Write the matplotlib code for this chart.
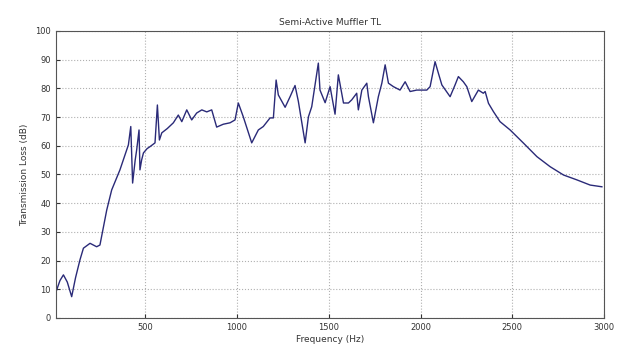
import matplotlib
matplotlib.use("Agg")
import matplotlib.pyplot as plt

freq = [17, 35, 54, 75, 99, 120, 144, 163, 199, 235, 253, 290, 317, 362, 408, 421,
        431, 445, 453, 466, 471, 480, 490, 510, 526, 553, 566, 577, 590, 620, 653,
        680, 699, 726, 753, 780, 808, 835, 862, 889, 925, 962, 989, 1007, 1034,
        1080, 1116, 1143, 1180, 1198, 1213, 1225, 1262, 1289, 1316, 1334, 1371,
        1389, 1407, 1443, 1452, 1480, 1507, 1534, 1552, 1580, 1607, 1625, 1652,
        1661, 1680, 1707, 1716, 1743, 1770, 1789, 1807, 1825, 1852, 1888, 1916,
        1943, 1979, 2034, 2052, 2079, 2097, 2116, 2161, 2188, 2206, 2233, 2252,
        2279, 2315, 2342, 2352, 2370, 2397, 2433, 2488, 2561, 2634, 2706, 2779,
        2852, 2924, 2988]
tl = [9.7, 13, 15, 12.5, 7.4, 14, 20.2, 24.3, 26, 24.8, 25.4, 37.6, 44.6, 51.6,
      60.3, 66.7, 47, 55, 58.5, 65.5, 51.6, 55, 57.5, 59, 59.7, 61, 74.2, 62, 64.5,
      66, 68, 70.7, 68.4, 72.5, 69, 71.4, 72.5, 71.8, 72.5, 66.5, 67.5, 68, 69,
      74.9, 70.1, 61, 65.5, 66.7, 69.7, 69.7, 82.9, 77.7, 73.4, 77.1, 81, 75.5,
      61, 70.1, 73.6, 88.8, 79.4, 75, 80.6, 71, 84.7, 74.9, 74.9, 76, 78.3, 72.5,
      79.4, 81.8, 77.1, 68, 77.1, 81.8, 88.2, 81.8, 80.6, 79.4, 82.3, 78.9, 79.4,
      79.4, 80.6, 89.3, 85.3, 81.2, 77.1, 81.2, 84.1, 82.3, 80.6, 75.4, 79.4,
      78.3, 78.9, 74.8, 71.9, 68.4, 65.5, 60.9, 56.2, 52.7, 49.8, 48.1, 46.3,
      45.7]

xticks = [500, 1000, 1500, 2000, 2500, 3000]
yticks = [0, 10, 20, 30, 40, 50, 60, 70, 80, 90, 100]

fig = plt.figure(figsize=(6.26, 3.56), dpi=100)
ax = fig.add_axes([0.089, 0.107, 0.876, 0.806])
ax.plot(freq, tl, color='#2a2a78', linewidth=1.0)
ax.set_xlim(12, 3000)
ax.set_ylim(0, 100)
ax.set_xticks(xticks)
ax.set_yticks(yticks)
ax.tick_params(direction='in', labelsize=6, length=3, colors='#333333')
ax.grid(True, linestyle=':', color='#b0b0b0', linewidth=0.8)
for s in ax.spines.values():
    s.set_color('#555555')
    s.set_linewidth(0.8)
ax.set_title('Semi-Active Muffler TL', fontsize=6.5, color='#333333', pad=4)
ax.set_xlabel('Frequency (Hz)', fontsize=6.5, color='#333333', labelpad=2)
ax.set_ylabel('Transmission Loss (dB)', fontsize=6.5, color='#333333', labelpad=4)
fig.savefig('out.png', dpi=100)
